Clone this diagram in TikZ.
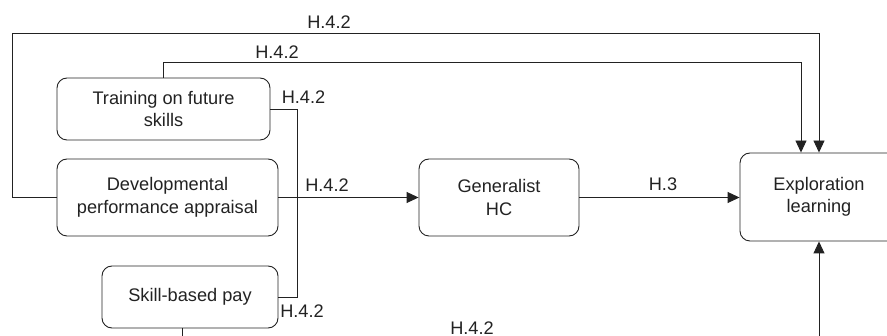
\documentclass[tikz,border=0pt]{standalone}
\usepackage{fontspec}
\setmainfont{Liberation Sans}
\usetikzlibrary{arrows.meta}
\definecolor{ink}{HTML}{222222}
\tikzset{
  box/.style={draw=ink, line width=0.9pt, rounded corners=10pt, align=center, inner sep=0pt,
    font=\fontsize{18.2}{22.5}\selectfont, text=ink},
  conn/.style={draw=ink, line width=0.9pt},
  arr/.style={conn, -{Triangle[length=12pt,width=11pt]}},
  lbl/.style={font=\fontsize{18.2}{22}\selectfont, text=ink, inner sep=0pt}
}
\begin{document}
\begin{tikzpicture}[x=1pt,y=-1pt]
\clip (0,0) rectangle (887,336);
\node[box, minimum width=213pt, minimum height=62pt] (train) at (163.5,109) {Training on future\\skills};
\node[box, minimum width=221pt, minimum height=77pt] (dev) at (167.5,197.5) {Developmental\\performance appraisal};
\node[box, minimum width=176pt, minimum height=62pt] (skill) at (190,297) {Skill-based pay};
\node[box, minimum width=160pt, minimum height=77pt] (gen) at (499,197.5) {Generalist\\HC};
\node[box, minimum width=158pt, minimum height=88pt] (expl) at (819,197) {Exploration\\learning};

\coordinate (outer) at (12,33);
\coordinate (inner) at (163.5,62);
\coordinate (joint) at (297,109);
\coordinate (skdown) at (182,350);
\coordinate (bottom) at (819,350);

\draw[arr] (dev.west) -| (outer) -| (expl.north);
\draw[arr] (train.north) -- (inner) -| ([xshift=-18pt]expl.north);
\draw[conn] (train.east) -- (joint) |- (skill.east);
\draw[arr] (dev.east) -- (gen.west);
\draw[arr] (gen.east) -- (gen.east -| expl.west);
\draw[conn] ([xshift=-8pt]skill.south) -- (skdown);
\draw[arr] (bottom) -- (expl.south);

\node[lbl] (l1) at (329,22) {H.4.2};
\node[lbl] (l2) at (277,52) {H.4.2};
\node[lbl] (l3) at (303.5,97) {H.4.2};
\node[lbl] (l4) at (327,185) {H.4.2};
\node[lbl] (l5) at (663,184) {H.3};
\node[lbl] (l6) at (302,311) {H.4.2};
\node[lbl] (l7) at (472,328) {H.4.2};
\end{tikzpicture}
\end{document}
